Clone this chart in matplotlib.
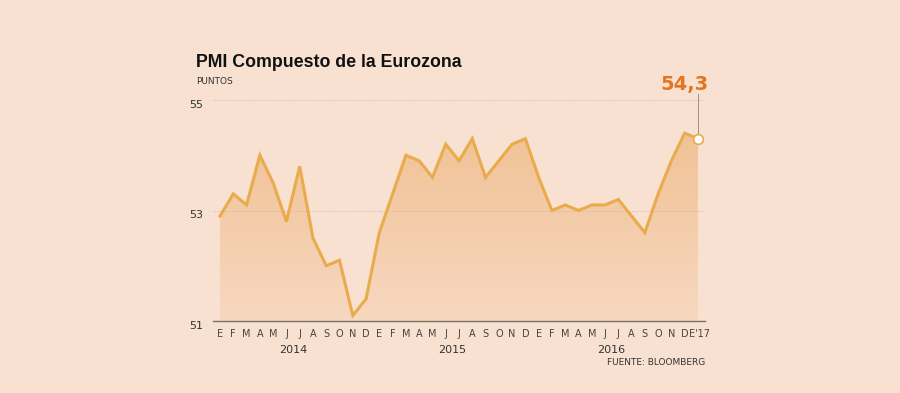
import numpy as np
import matplotlib
matplotlib.use("Agg")
import matplotlib.pyplot as plt
from matplotlib.colors import LinearSegmentedColormap

# PMI compuesto, enero 2014 - enero 2017
meses = ['E', 'F', 'M', 'A', 'M', 'J', 'J', 'A', 'S', 'O', 'N', 'D'] * 3 + ["E'17"]
pmi = [52.9, 53.3, 53.1, 54.0, 53.5, 52.8, 53.8, 52.5, 52.0, 52.1, 51.1, 51.4,
       52.6, 53.3, 54.0, 53.9, 53.6, 54.2, 53.9, 54.3, 53.6, 53.9, 54.2, 54.3,
       53.6, 53.0, 53.1, 53.0, 53.1, 53.1, 53.2, 52.9, 52.6, 53.3, 53.9, 54.4,
       54.3]
anios = ['2014', '2015', '2016']
yticks = [51, 53, 55]

bg = '#f9e1d1'
linea = '#e9ab4c'
naranja = '#e2751f'

x = np.arange(len(pmi))
y = np.array(pmi)

fig = plt.figure(figsize=(9, 3.93), dpi=100)
fig.patch.set_facecolor(bg)
ax = fig.add_axes([213 / 900, 1 - 321 / 393, 492 / 900, 221 / 393])
ax.set_facecolor(bg)
ax.set_xlim(-0.53, 36.53)
ax.set_ylim(51, 55)

# relleno degradado bajo la curva
cmap = LinearSegmentedColormap.from_list('deg', ['#f7d8c0', '#f1c296'])
grad = np.linspace(0, 1, 256).reshape(-1, 1)
img = ax.imshow(grad, extent=[0, 36, 51, 54.4], origin='lower', cmap=cmap,
                aspect='auto', zorder=1)
clip = plt.Polygon(np.column_stack([np.r_[x, x[-1], x[0]], np.r_[y, 51, 51]]),
                   closed=True, transform=ax.transData, fc='none', ec='none')
ax.add_patch(clip)
img.set_clip_path(clip)

ax.plot(x, y, color=linea, lw=2.2, zorder=3, solid_joinstyle='miter')

for v in [53, 55]:
    ax.axhline(v, color='#d8b8a3', lw=0.6, ls=(0, (1, 1)), zorder=2)
ax.axhline(51, color='#7a7068', lw=1, zorder=4, clip_on=False)

# último dato
ax.plot(x[-1], y[-1], 'o', ms=7, mfc='white', mec=linea, mew=1.2, zorder=5, clip_on=False)
ax.plot([x[-1], x[-1]], [y[-1] + 0.07, 55.1], color='#9a9090', lw=0.7, zorder=4, clip_on=False)
ax.text(x[-1] - 1.05, 55.18, '54,3', color=naranja, fontsize=14, fontweight='bold',
        ha='center', va='baseline')

for s in ax.spines.values():
    s.set_visible(False)

ax.set_yticks(yticks)
ax.set_yticklabels([str(t) for t in yticks], fontsize=8, color='#333333', va='top')
ax.tick_params(axis='y', length=0, pad=7)
ax.set_xticks(x[:-1])
ax.set_xticklabels(meses[:-1], fontsize=7, color='#444444')
ax.tick_params(axis='x', length=0, pad=6)
ax.text(x[-1] - 0.7, 50.86, meses[-1], fontsize=7, color='#444444', ha='left', va='top')

for i, a in enumerate(anios):
    ax.text(12 * i + 5.5, 50.56, a, fontsize=8, color='#333333', ha='center', va='top')

fig.text(196 / 900, 1 - 67 / 393, 'PMI Compuesto de la Eurozona', fontsize=12.8,
         fontweight='bold', family='Liberation Sans', color='#111111',
         ha='left', va='baseline')
fig.text(196 / 900, 1 - 84 / 393, 'PUNTOS', fontsize=6.5, color='#333333',
         ha='left', va='baseline')
fig.text(705 / 900, 1 - 365 / 393, 'FUENTE: BLOOMBERG', fontsize=6.5, color='#333333',
         ha='right', va='baseline')

fig.savefig('out.png', dpi=100, facecolor=bg)
